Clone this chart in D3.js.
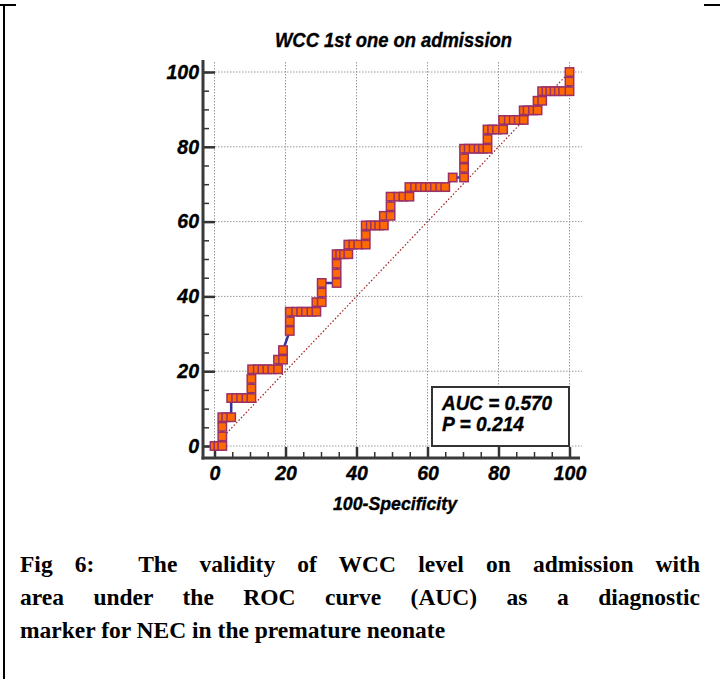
<!DOCTYPE html>
<html lang="en">
<head>
  <meta charset="UTF-8">
  <title>WCC ROC curve</title>
  <script src="https://d3js.org/d3.v7.min.js"></script>
  <style>
    body { margin: 0; padding: 0; background: #fff; }
    #wrap { position: relative; width: 720px; height: 679px; overflow: hidden; }
    svg { position: absolute; left: 0; top: 0; }
    .chart-text {
      font-family: "Liberation Sans", Arial, sans-serif; font-weight: bold; font-style: italic;
      fill: #000; stroke: #000; stroke-width: 0.35px;
    }
    .caption {
      position: absolute; left: 20px; width: 680px;
      font-family: "Liberation Serif", "Times New Roman", serif;
      font-weight: bold; font-size: 23.5px; line-height: 33px; color: #000;
      white-space: nowrap;
    }
    .justify { text-align: justify; text-align-last: justify; white-space: normal; }
  </style>
</head>
<body>
<div id="wrap">
  <div id="chart"></div>
  <div class="caption justify" style="top:548px">Fig 6:&nbsp; The validity of WCC level on admission with</div>
  <div class="caption justify" style="top:581px">area under the ROC curve (AUC) as a diagnostic</div>
  <div class="caption" style="top:614px">marker for NEC in the premature neonate</div>
</div>
<script>
  // ROC points: 100-Specificity (x) and Sensitivity (y)
  const fpr = [
    0, 1.1, 2.2, 2.2, 2.2, 2.2, 3.3, 4.7,
    4.7, 6.1, 7.5, 9.0, 10.4, 10.4, 10.4,
    10.6, 12.2, 13.5, 14.9, 16.3, 17.9,
    17.9, 19.3, 19.3, 21.2, 21.2,
    21.2, 23.0, 24.4, 25.8, 27.3, 28.7,
    28.7, 30.2, 30.2, 30.2,
    34.4, 34.4, 34.4, 34.4, 35.4, 36.5, 37.7,
    37.7, 39.1, 40.5, 42.6, 42.6,
    42.6, 44.0, 45.2, 46.4, 47.7,
    47.7, 49.6, 49.6,
    49.6, 51.8, 53.2, 54.9,
    54.9, 56.5, 57.9, 59.3, 60.7, 62.1, 63.6, 65.0,
    67.1, 70.3, 70.3, 70.3,
    70.3, 71.6, 73.0, 74.4, 75.6, 76.9,
    76.9,
    76.9, 78.2, 79.6, 81.3,
    81.3, 82.9, 84.3, 85.7, 87.1,
    87.1, 88.2, 89.7, 91.0,
    91.0, 92.3,
    92.3, 93.5, 94.6, 95.8, 97.0, 98.2, 100,
    100, 100
  ];
  const sensitivity = [
    0, 0, 0, 2.56, 5.13, 7.69, 7.69, 7.69,
    12.82, 12.82, 12.82, 12.82, 12.82, 15.38, 17.95,
    20.51, 20.51, 20.51, 20.51, 20.51, 20.51,
    23.08, 23.08, 25.64, 30.77, 33.33,
    35.90, 35.90, 35.90, 35.90, 35.90, 35.90,
    38.46, 38.46, 41.03, 43.59,
    43.59, 46.15, 48.72, 51.28, 51.28, 51.28, 51.28,
    53.85, 53.85, 53.85, 53.85, 56.41,
    58.97, 58.97, 58.97, 58.97, 58.97,
    61.54, 61.54, 64.10,
    66.67, 66.67, 66.67, 66.67,
    69.23, 69.23, 69.23, 69.23, 69.23, 69.23, 69.23, 69.23,
    71.79, 71.79, 74.36, 76.92,
    79.49, 79.49, 79.49, 79.49, 79.49, 79.49,
    82.05,
    84.62, 84.62, 84.62, 84.62,
    87.18, 87.18, 87.18, 87.18, 87.18,
    89.74, 89.74, 89.74, 89.74,
    92.31, 92.31,
    94.87, 94.87, 94.87, 94.87, 94.87, 94.87, 94.87,
    97.44, 100
  ];
  const majorTicks = [0, 20, 40, 60, 80, 100];
  const minorTicks = d3.range(0, 101, 5);
  const chartTitle = "WCC 1st one on admission";
  const xTitle = "100-Specificity";
  const statLines = ["AUC = 0.570", "P = 0.214"];

  const W = 720, H = 679;
  const svg = d3.select("#chart").append("svg")
    .attr("width", W).attr("height", H);

  // frame lines of the page
  svg.append("line").attr("x1", 4).attr("x2", 4).attr("y1", 4).attr("y2", H)
    .attr("stroke", "#000").attr("stroke-width", 2);
  svg.append("line").attr("x1", 0).attr("x2", 16).attr("y1", 5).attr("y2", 5)
    .attr("stroke", "#000").attr("stroke-width", 2);
  svg.append("line").attr("x1", 704).attr("x2", W).attr("y1", 5).attr("y2", 5)
    .attr("stroke", "#000").attr("stroke-width", 2);

  // scales
  const x = d3.scaleLinear().domain([0, 100]).range([214.5, 569.5]);
  const y = d3.scaleLinear().domain([0, 100]).range([446, 72]);
  const axisX = 203, axisY = 458;
  const gridTop = 62, gridRight = 582;

  // grid
  const grid = svg.append("g").attr("stroke", "#9a9a9a").attr("stroke-width", 1)
    .attr("stroke-dasharray", "1.5,1.5");
  grid.selectAll(".gv").data(majorTicks).enter().append("line")
    .attr("x1", d => x(d)).attr("x2", d => x(d))
    .attr("y1", gridTop).attr("y2", axisY);
  grid.selectAll(".gh").data(majorTicks).enter().append("line")
    .attr("x1", axisX).attr("x2", gridRight)
    .attr("y1", d => y(d)).attr("y2", d => y(d));

  // diagonal reference line
  svg.append("line")
    .attr("x1", x(0)).attr("y1", y(0)).attr("x2", x(100)).attr("y2", y(100))
    .attr("stroke", "#a01c1c").attr("stroke-width", 1.2)
    .attr("stroke-dasharray", "1.5,2");

  // axes
  const yMinor = svg.append("g").attr("transform", `translate(${axisX},0)`)
    .call(d3.axisLeft(y).tickValues(minorTicks).tickSizeInner(-6).tickSizeOuter(0).tickFormat(""));
  const yMajor = svg.append("g").attr("transform", `translate(${axisX},0)`)
    .call(d3.axisLeft(y).tickValues(majorTicks).tickSizeInner(-12).tickSizeOuter(0).tickPadding(4));
  const xMinor = svg.append("g").attr("transform", `translate(0,${axisY})`)
    .call(d3.axisBottom(x).tickValues(minorTicks).tickSizeInner(-6).tickSizeOuter(0).tickFormat(""));
  const xMajor = svg.append("g").attr("transform", `translate(0,${axisY})`)
    .call(d3.axisBottom(x).tickValues(majorTicks).tickSizeInner(-11).tickSizeOuter(0).tickPadding(8));

  [yMinor, yMajor, xMinor, xMajor].forEach(g => {
    g.select(".domain").remove();
    g.selectAll(".tick line").attr("stroke", "#333").attr("stroke-width", 1.5);
  });
  [yMajor, xMajor].forEach(g => {
    g.selectAll(".tick line").attr("stroke-width", 2.5);
    g.selectAll("text").attr("class", "chart-text").attr("font-size", 19.5);
  });

  svg.append("line").attr("x1", axisX).attr("x2", axisX).attr("y1", 60).attr("y2", axisY + 1.5)
    .attr("stroke", "#3a3a3a").attr("stroke-width", 3);
  svg.append("line").attr("x1", axisX - 1.5).attr("x2", 580).attr("y1", axisY).attr("y2", axisY)
    .attr("stroke", "#3a3a3a").attr("stroke-width", 3);

  // ROC curve
  const pts = fpr.map((v, i) => [v, sensitivity[i]]);
  svg.append("path")
    .datum(pts)
    .attr("fill", "none")
    .attr("stroke", "#33339a")
    .attr("stroke-width", 2.5)
    .attr("d", d3.line().x(d => x(d[0])).y(d => y(d[1])));

  svg.append("g").selectAll("rect").data(pts).enter().append("rect")
    .attr("x", d => x(d[0]) - 4.2)
    .attr("y", d => y(d[1]) - 4.2)
    .attr("width", 8.4).attr("height", 8.4)
    .attr("fill", "#ff6a00")
    .attr("stroke", "#9a3068")
    .attr("stroke-width", 1.5);

  // AUC box
  svg.append("rect")
    .attr("x", 432).attr("y", 387).attr("width", 137).attr("height", 59)
    .attr("fill", "#fff").attr("stroke", "#333").attr("stroke-width", 2);
  svg.selectAll(".stat").data(statLines).enter().append("text")
    .attr("class", "chart-text")
    .attr("x", 442).attr("y", (d, i) => 410 + i * 21)
    .attr("font-size", 21)
    .attr("textLength", (d, i) => i === 0 ? 110 : 82)
    .attr("lengthAdjust", "spacingAndGlyphs")
    .text(d => d);

  // titles
  svg.append("text").attr("class", "chart-text")
    .attr("x", 393.5).attr("y", 47).attr("text-anchor", "middle")
    .attr("font-size", 19.5)
    .attr("textLength", 237).attr("lengthAdjust", "spacingAndGlyphs")
    .text(chartTitle);
  svg.append("text").attr("class", "chart-text")
    .attr("x", 395).attr("y", 510).attr("text-anchor", "middle")
    .attr("font-size", 17.5)
    .attr("textLength", 124).attr("lengthAdjust", "spacingAndGlyphs")
    .text(xTitle);
</script>
</body>
</html>
